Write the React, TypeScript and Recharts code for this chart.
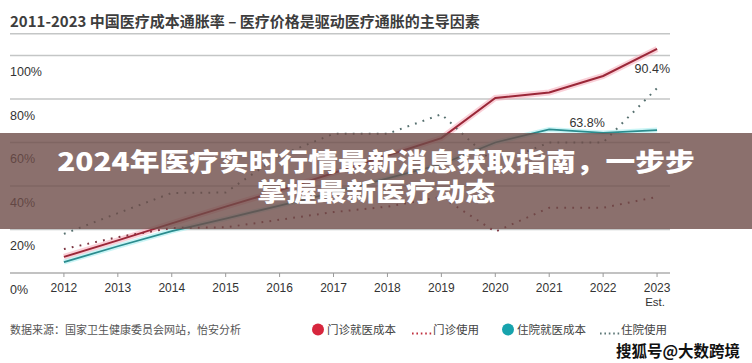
import { LineChart, Line, XAxis, YAxis, CartesianGrid, LabelList } from 'recharts'

const YEARS = [2012, 2013, 2014, 2015, 2016, 2017, 2018, 2019, 2020, 2021, 2022, 2023]
const OUTPATIENT_COST = [7.4, 15, 22.8, 30.5, 38, 46, 54, 62, 80.5, 83, 90.6, 103]
const OUTPATIENT_USE = [11, 16.5, 20.7, 21, 24.5, 28, 30.5, 35, 19, 30, 30, 35]
const INPATIENT_COST = [5, 12.3, 19.3, 25, 31, 37, 43.5, 50, 60, 66, 64.4, 65.7]
const INPATIENT_USE = [18, 27.5, 36.8, 37, 54, 64, 64, 73, 50, 60, 60, 85]
const Y_TICKS = [0, 20, 40, 60, 80, 100]

const TITLE = '2011-2023 中国医疗成本通胀率 – 医疗价格是驱动医疗通胀的主导因素'
const SOURCE = '数据来源：国家卫生健康委员会网站，怡安分析'
const BANNER = ['2024年医疗实时行情最新消息获取指南，一步步', '掌握最新医疗动态']
const WATERMARK = '搜狐号@大数跨境'
const OUT_COST_LABEL = '90.4%'
const IN_COST_LABEL = '63.8%'

const RED = '#9b2738'
const RED_GLOW = '#f5a9b8'
const TEAL = '#2b8c8e'
const TEAL_GLOW = '#a6eef0'
const MAROON_DOT = '#7c3340'
const GREY_DOT = '#56706f'

const LEGEND = [
  { name: '门诊就医成本', kind: 'dot', color: '#d7263d', x: 318 },
  { name: '门诊使用', kind: 'dots', color: '#c0303f', x: 412 },
  { name: '住院就医成本', kind: 'dot', color: '#17a3ad', x: 508 },
  { name: '住院使用', kind: 'dots', color: '#5d7777', x: 600 },
]

const FONT = '"Liberation Sans", Arial, "Noto Sans CJK SC", sans-serif'
const CJK = '"Noto Sans CJK SC", sans-serif'

const data = YEARS.map((year, i) => ({
  year,
  outCost: OUTPATIENT_COST[i],
  outUse: OUTPATIENT_USE[i],
  inCost: INPATIENT_COST[i],
  inUse: INPATIENT_USE[i],
}))

function XTick({ x, y, payload }: any) {
  return (
    <g>
      <text x={x} y={y + 13} textAnchor="middle" fontSize={12} fill="#333" fontFamily={FONT}>
        {payload.value}
      </text>
      {payload.value === 2023 && (
        <text x={x - 2} y={y + 27} textAnchor="middle" fontSize={11.5} fill="#333" fontFamily={FONT}>
          Est.
        </text>
      )}
    </g>
  )
}

function YTick({ y, payload }: any) {
  return (
    <text x={10} y={y + 20.5} textAnchor="start" fontSize={12.5} fill="#333" fontFamily={FONT}>
      {payload.value}%
    </text>
  )
}

export default function App() {
  return (
    <div style={{ position: 'relative', width: 752, height: 363, background: '#fff', overflow: 'hidden' }}>
      <style>{'body{margin:0}'}</style>
      <LineChart width={752} height={363} data={data} margin={{ top: 33.75, right: 82, left: 9, bottom: 60 }}>
        <CartesianGrid vertical={false} stroke="#c4c6c6" strokeWidth={1.5} />
        <XAxis
          dataKey="year"
          type="number"
          domain={[2011, 2023.24]}
          ticks={YEARS}
          height={30}
          tick={<XTick />}
          tickSize={4}
          axisLine={{ stroke: '#bcbcbc', strokeWidth: 1.5 }}
          tickLine={{ stroke: '#9a9a9a' }}
        />
        <YAxis width={1} domain={[0, 110]} ticks={Y_TICKS} axisLine={false} tickLine={false} tick={<YTick />} />
        <Line dataKey="outCost" stroke={RED_GLOW} strokeWidth={6} strokeOpacity={0.55} dot={false} isAnimationActive={false} />
        <Line dataKey="inCost" stroke={TEAL_GLOW} strokeWidth={5} strokeOpacity={0.6} dot={false} isAnimationActive={false} />
        <Line
          dataKey="inUse"
          stroke={GREY_DOT}
          strokeWidth={2}
          strokeDasharray="1.8 6.2"
          dot={false}
          isAnimationActive={false}
        />
        <Line
          dataKey="outUse"
          stroke={MAROON_DOT}
          strokeWidth={2}
          strokeDasharray="1.8 6.2"
          dot={false}
          isAnimationActive={false}
        />
        <Line dataKey="inCost" stroke={TEAL} strokeWidth={1.8} dot={false} isAnimationActive={false}>
          <LabelList
            dataKey="inCost"
            content={(p: any) =>
              p.index === 10 ? (
                <text x={p.x - 16} y={p.y - 6} textAnchor="middle" fontSize={12.5} fill="#333" fontFamily={FONT}>
                  {IN_COST_LABEL}
                </text>
              ) : null
            }
          />
        </Line>
        <Line dataKey="outCost" stroke={RED} strokeWidth={2} dot={false} isAnimationActive={false}>
          <LabelList
            dataKey="outCost"
            content={(p: any) =>
              p.index === 11 ? (
                <text x={p.x + 13} y={p.y + 24.5} textAnchor="end" fontSize={12.5} fill="#333" fontFamily={FONT}>
                  {OUT_COST_LABEL}
                </text>
              ) : null
            }
          />
        </Line>
      </LineChart>

      <svg width={752} height={363} style={{ position: 'absolute', left: 0, top: 0, pointerEvents: 'none' }}>
        <text x={10} y={27} fontSize={15} fontWeight={700} fill="#3d3d3d" fontFamily={CJK}>
          {TITLE}
        </text>

        <rect x={0} y={133} width={752} height={96} fill="#6e4c49" fillOpacity={0.8} />
        {BANNER.map((line, i) => (
          <g key={i} transform={`translate(376, ${171 + i * 30}) scale(1.19, 1)`}>
            <text x={0} y={0} textAnchor="middle" fontSize={25} fontWeight={900} fill="#fff" fontFamily={CJK}>
              {line}
            </text>
          </g>
        ))}

        <text x={10} y={334} fontSize={11} fill="#555" fontFamily={CJK}>
          {SOURCE}
        </text>
        {LEGEND.map((item) =>
          item.kind === 'dot' ? (
            <g key={item.name}>
              <circle cx={item.x} cy={329.5} r={6} fill={item.color} />
              <text x={item.x + 9} y={333.5} fontSize={11.5} fill="#444" fontFamily={CJK}>
                {item.name}
              </text>
            </g>
          ) : (
            <g key={item.name}>
              <line
                x1={item.x}
                y1={333.5}
                x2={item.x + 20}
                y2={333.5}
                stroke={item.color}
                strokeWidth={2}
                strokeDasharray="1.6 2.8"
              />
              <text x={item.x + 21} y={333.5} fontSize={11.5} fill="#444" fontFamily={CJK}>
                {item.name}
              </text>
            </g>
          )
        )}

        <text
          x={616}
          y={357}
          fontSize={15.5}
          fontWeight={700}
          fill="#111"
          stroke="#fff"
          strokeWidth={2.5}
          paintOrder="stroke"
          fontFamily={CJK}
        >
          {WATERMARK}
        </text>
      </svg>
    </div>
  )
}
